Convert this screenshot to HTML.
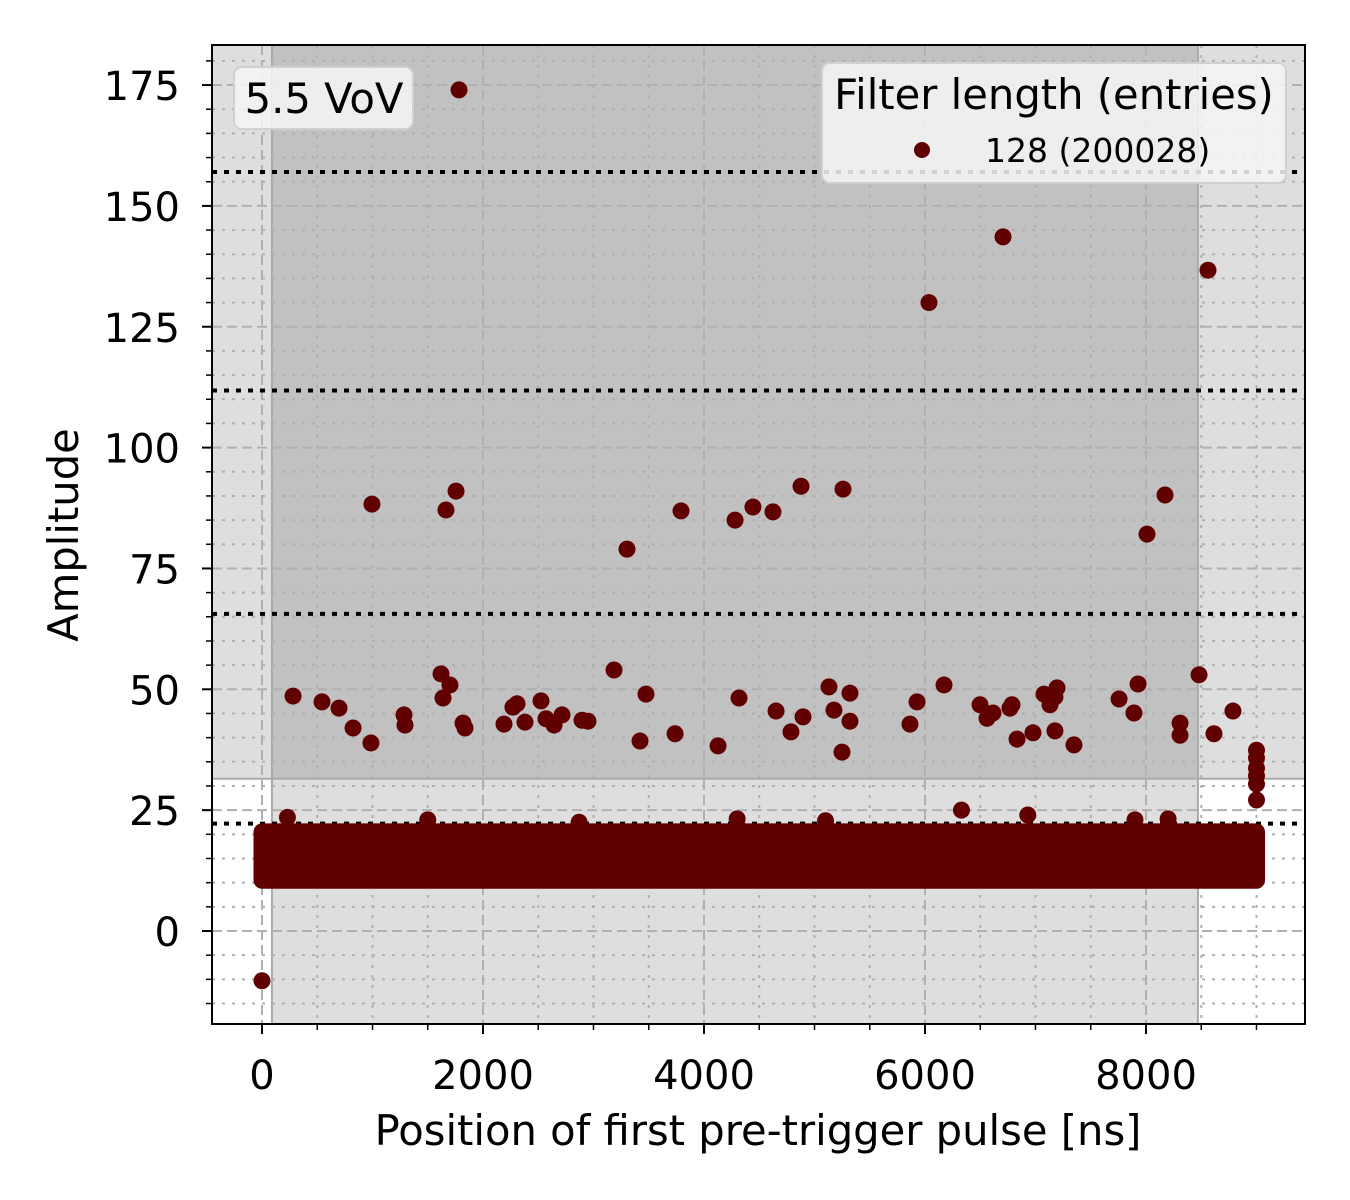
<!DOCTYPE html>
<html><head><meta charset="utf-8"><style>
html,body{margin:0;padding:0;background:#fff;}
svg{display:block;font-family:"DejaVu Sans","Liberation Sans",sans-serif;}
</style></head><body>
<svg id="chart" width="1350" height="1200" viewBox="0 0 1350 1200" xmlns="http://www.w3.org/2000/svg">
<g id="bg"></g>
<g id="grid"></g>
<g id="hlines"></g>
<g id="pts"></g>
<g id="axes"></g>
<text x="758" y="1145" text-anchor="middle" style="font-size:41.7px">Position of first pre-trigger pulse [ns]</text>
<text transform="translate(78,535) rotate(-90)" text-anchor="middle" style="font-size:41.7px">Amplitude</text>
<g>
<rect x="234" y="67" width="179" height="62" rx="8" fill="#f6f6f6" fill-opacity="0.85" stroke="#d0d0d0" stroke-width="2"/>
<text x="324" y="113" text-anchor="middle" style="font-size:41.7px">5.5 VoV</text>
</g>
<g>
<rect x="822" y="63" width="464" height="120" rx="8" fill="#f6f6f6" fill-opacity="0.85" stroke="#d0d0d0" stroke-width="2"/>
<text x="1054" y="109" text-anchor="middle" style="font-size:41.7px">Filter length (entries)</text>
<circle cx="922" cy="150" r="8" fill="#600000"/>
<text x="985" y="162" style="font-size:33px">128 (200028)</text>
</g>
</svg>
<script>
const xTicks=[0,2000,4000,6000,8000];
const yTicks=[0,25,50,75,100,125,150,175];
const thresholds=[157,111.8,65.6,22.2];
const bandX=[90,8470];
const bandYMin=31.5;
const blobRange=[0,9000,10.5,20.5];
const outX=[1783,6036,6706,8561,995,1665,1756,3303,3792,4281,4443,4624,4878,5258,8009,8172,
281,543,697,824,986,1285,1294,1620,1638,1701,1819,1837,2190,2271,2308,2380,2525,2570,2643,2715,2896,2950,3186,3421,3475,3738,4127,4317,4652,4787,4896,5131,5176,5249,5321,5321,5864,5928,6172,6498,6561,6615,6769,6787,6833,6977,7077,7131,7176,7195,7176,7348,7756,7891,7928,8308,8308,8480,8615,8787,
9000,9000,9000,9000,9000,9000,0,6330,6930,230,1500,2870,4300,5100,7900,8200];
const outY=[174,130,143.6,136.7,88.3,87.1,91,79,86.9,85,87.7,86.7,92,91.4,82.1,90.2,
48.6,47.4,46.1,42,38.9,44.7,42.6,53.2,48.2,50.9,43,42,42.8,46.3,47,43.2,47.6,43.9,42.6,44.7,43.6,43.4,54,39.3,49,40.8,38.3,48.2,45.5,41.2,44.3,50.5,45.7,37,49.2,43.4,42.8,47.4,50.9,46.8,44,45.1,46.1,46.8,39.7,41,49,46.8,48.4,50.3,41.4,38.5,48,45.1,51.1,40.5,43,53,40.8,45.5,
37.4,35.8,33.7,32.1,30.4,27.1,-10.3,25,24,23.5,23,22.5,23.2,22.8,23,23.2];
const L=212,R=1305,T=45,B=1024;
const X=v=>262+v*0.11050;
const Y=v=>931-v*4.834;
const NS="http://www.w3.org/2000/svg";
function mk(p,t,a){const e=document.createElementNS(NS,t);for(const k in a)e.setAttribute(k,a[k]);p.appendChild(e);return e;}
const bg=document.getElementById('bg'),grid=document.getElementById('grid'),hl=document.getElementById('hlines'),pts=document.getElementById('pts'),axes=document.getElementById('axes');
let e=mk(bg,'rect',{x:X(bandX[0]),y:T,width:X(bandX[1])-X(bandX[0]),height:B-T,fill:'#000','fill-opacity':0.13});

e=mk(bg,'rect',{x:L,y:T,width:R-L,height:Y(bandYMin)-T,fill:'#000','fill-opacity':0.13});

mk(bg,'line',{x1:X(bandX[0]),x2:X(bandX[0]),y1:T,y2:B,stroke:'#aaa','stroke-width':2});
mk(bg,'line',{x1:X(bandX[1]),x2:X(bandX[1]),y1:T,y2:B,stroke:'#aaa','stroke-width':2});
mk(bg,'line',{x1:L,x2:R,y1:Y(bandYMin),y2:Y(bandYMin),stroke:'#aaa','stroke-width':2});
for(let v=-500;v<=9500;v+=500){const x=X(v);if(x<L||x>R)continue;const maj=v%2000===0;
 mk(grid,'line',{x1:x,x2:x,y1:T,y2:B,stroke:'#b0b0b0','stroke-width':2,'stroke-dasharray':maj?'10,5':'3,7'});}
for(let v=-15;v<=180;v+=5){const y=Y(v);if(y<T||y>B)continue;const maj=v%25===0;
 mk(grid,'line',{x1:L,x2:R,y1:y,y2:y,stroke:'#b0b0b0','stroke-width':2,'stroke-dasharray':maj?'10,5':'3,7'});}
thresholds.forEach(t=>{const l=mk(hl,'line',{x1:L,x2:R,y1:Y(t),y2:Y(t),stroke:'#000','stroke-width':4,'stroke-dasharray':'5,7'});
 });
const [bx0,bx1,by0,by1]=blobRange;
e=mk(pts,'rect',{x:X(bx0)-8.5,y:Y(by1)-8.5,width:X(bx1)-X(bx0)+17,height:Y(by0)-Y(by1)+17,rx:8.5,fill:'#600000'});

for(let i=0;i<outX.length;i++){const c=mk(pts,'circle',{cx:X(outX[i]),cy:Y(outY[i]),r:8.5,fill:'#600000'});
 
 }
mk(axes,'rect',{x:L,y:T,width:R-L,height:B-T,fill:'none',stroke:'#000','stroke-width':2});
xTicks.forEach(v=>{mk(axes,'line',{x1:X(v),x2:X(v),y1:B,y2:B+10,stroke:'#000','stroke-width':2});
 const t=mk(axes,'text',{x:X(v),y:B+65,'text-anchor':'middle',style:'font-size:40px'});t.textContent=v;
 });
for(let v=-500;v<=9500;v+=500){const x=X(v);if(x<L||x>R||v%2000===0)continue;mk(axes,'line',{x1:x,x2:x,y1:B,y2:B+6,stroke:'#000','stroke-width':1.5});}
yTicks.forEach(v=>{mk(axes,'line',{x1:L-10,x2:L,y1:Y(v),y2:Y(v),stroke:'#000','stroke-width':2});
 const t=mk(axes,'text',{x:L-32,y:Y(v)+15,'text-anchor':'end',style:'font-size:40px'});t.textContent=v;
 });
for(let v=-15;v<=180;v+=5){const y=Y(v);if(y<T||y>B||v%25===0)continue;mk(axes,'line',{x1:L-6,x2:L,y1:y,y2:y,stroke:'#000','stroke-width':1.5});}
</script>
</body></html>
